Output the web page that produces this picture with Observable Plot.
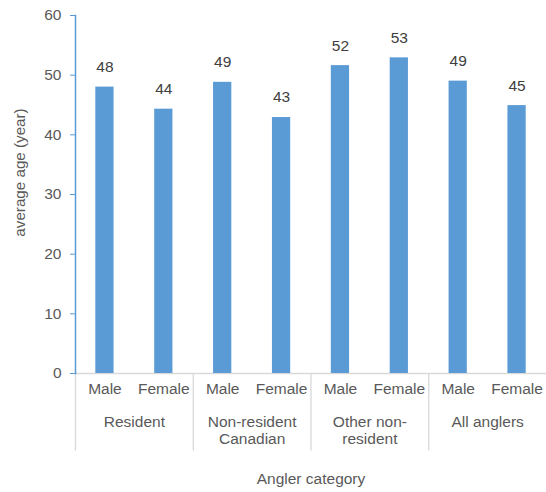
<!DOCTYPE html>
<html>
<head>
<meta charset="utf-8">
<script src="https://cdn.jsdelivr.net/npm/d3@7"></script>
<script src="https://cdn.jsdelivr.net/npm/@observablehq/plot@0.6"></script>
<style>
  html, body { margin: 0; padding: 0; background: #fff; }
  #chart svg { display: block; }
</style>
</head>
<body>
<div id="chart"></div>
<script>
const groups = ["Resident", "Non-resident Canadian", "Other non-resident", "All anglers"];
const groupLabels = ["Resident", "Non-resident\nCanadian", "Other non-\nresident", "All anglers"];
const sexes = ["Male", "Female"];
const maleValues = [48.0, 48.8, 51.6, 49.0];
const femaleValues = [44.3, 42.9, 52.9, 44.9];
const yTicks = [0, 10, 20, 30, 40, 50, 60];
const yTitle = "average age (year)";
const xTitle = "Angler category";

const data = [];
groups.forEach((g, i) => {
  data.push({group: g, sex: "Male", key: g + "|Male", value: maleValues[i]});
  data.push({group: g, sex: "Female", key: g + "|Female", value: femaleValues[i]});
});
const keys = data.map(d => d.key);
const groupRows = groups.map((g, i) => ({group: g, label: groupLabels[i], key: g + "|Male"}));

const W = 546, H = 492;
const mLeft = 75, mRight = 0, mTop = 15, mBottom = 119;
const step = (W - mLeft - mRight) / keys.length;

const font = "'Liberation Sans', Arial, sans-serif";
const barColor = "#5B9BD5";
const textColor = "#595959";
const gridGray = "#D9D9D9";

const chart = Plot.plot({
  width: W,
  height: H,
  marginLeft: mLeft,
  marginRight: mRight,
  marginTop: mTop,
  marginBottom: mBottom,
  style: {fontFamily: font, fontSize: "15.5px", color: textColor, background: "#fff"},
  x: {type: "band", domain: keys, paddingInner: 0.69, paddingOuter: 0.345, round: false, axis: null},
  y: {domain: [0, 60], ticks: yTicks, axis: null},
  marks: [
    Plot.ruleY([0], {stroke: gridGray, strokeWidth: 1.3}),
    Plot.ruleX(groupRows, {x: "key", dx: -step / 2, y1: 0, y2: -13, stroke: gridGray, strokeWidth: 1.3}),
    Plot.barY(data, {x: "key", y: "value", fill: barColor}),
    Plot.text(data, {x: "key", y: "value", text: d => d3.format(".0f")(d.value), dy: -20, fill: "#404040", fontSize: 15.5}),
    Plot.axisY({ticks: yTicks, tickSize: 5, tickPadding: 9, stroke: barColor, fill: textColor, fontSize: 15.5, label: null}),
    Plot.frame({anchor: "left", stroke: barColor, strokeWidth: 1.5}),
    Plot.text(data, {x: "key", text: "sex", frameAnchor: "bottom", dy: 20, fill: textColor, fontSize: 15.5}),
    Plot.text(groupRows, {x: "key", text: "label", frameAnchor: "bottom", dx: step / 2, dy: 41, lineAnchor: "top", lineHeight: 1.1, fill: textColor, fontSize: 15.5}),
    Plot.text([xTitle], {frameAnchor: "bottom", dy: 110, fill: textColor, fontSize: 15.5}),
    Plot.text([yTitle], {frameAnchor: "left", textAnchor: "middle", dx: -55, dy: -22, rotate: -90, fill: textColor, fontSize: 15.2})
  ]
});
document.getElementById("chart").appendChild(chart);
</script>
</body>
</html>
